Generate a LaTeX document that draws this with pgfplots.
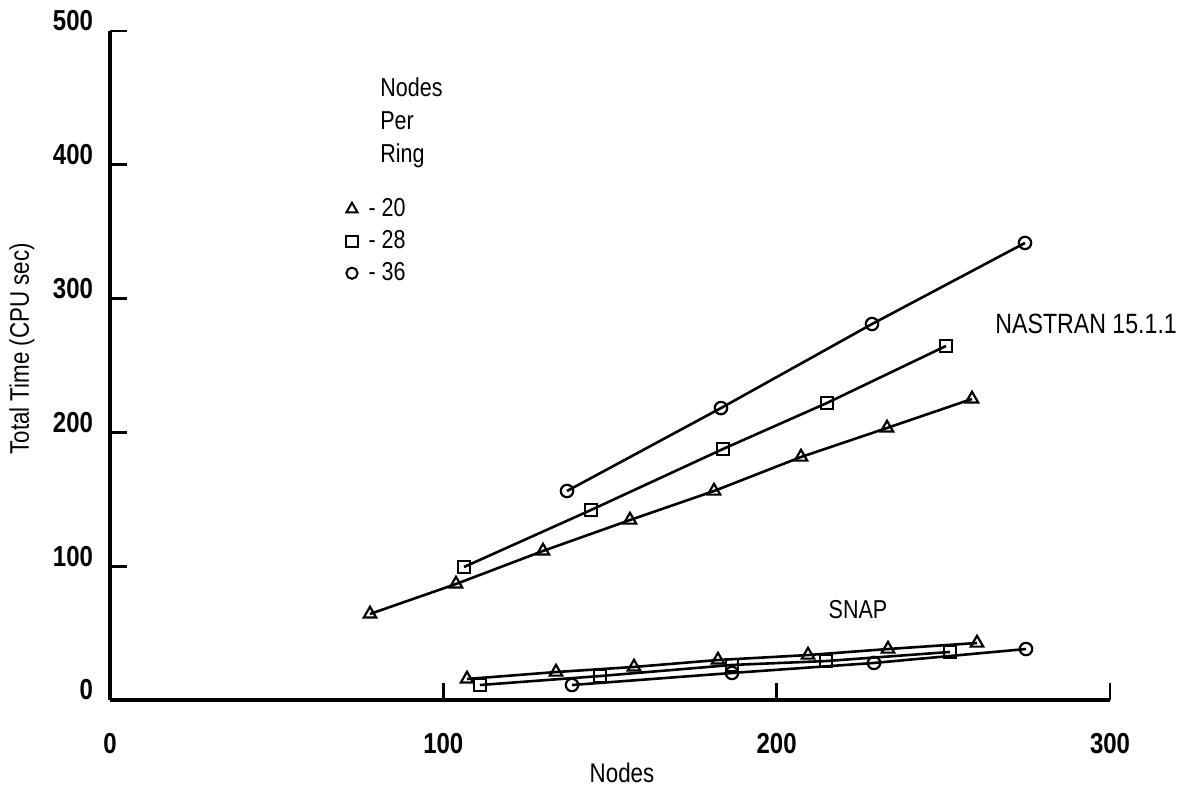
\documentclass[border=0pt]{standalone}
\usepackage{fontspec}
\setmainfont{Liberation Sans}[FakeStretch=0.83]
\usepackage{pgfplots}
\pgfplotsset{compat=1.18}
\begin{document}
\begin{tikzpicture}
\begin{axis}[
  at={(0,0)}, anchor=south west,
  scale only axis, width=500bp, height=334.5bp,
  xmin=0, xmax=300, ymin=0, ymax=500,
  axis lines=left, axis line style={-, line width=1.7bp},
  tick align=inside, major tick length=8.5bp,
  tick style={line width=1.3bp, black},
  xtick={0,100,200,300}, ytick={0,100,200,300,400,500},
  /pgf/number format/assume math mode=true,
  ticklabel style={font=\fontsize{14.5}{16}\selectfont\bfseries},
  xticklabel style={yshift=-13bp},
  yticklabel style={xshift=-5bp, yshift=5bp},
  xlabel={Nodes}, ylabel={Total Time (CPU sec)},
  label style={font=\fontsize{13.5}{15}\selectfont},
  xlabel style={at={(axis description cs:0.512,-0.109)}, anchor=center},
  ylabel style={at={(axis description cs:-0.088,0.525)}, anchor=center},
  clip=false,
  legend style={draw=none, fill=none, at={(axis cs:69,381)}, anchor=north west,
    font=\fontsize{13}{15}\selectfont, row sep=1.5bp},
  legend cell align=left,
  every axis plot/.append style={black, line width=1.3bp,
    mark options={solid, fill=white, line width=1.1bp}},
]
% NASTRAN 15.1.1
\addplot[mark=triangle, mark size=3.6bp, forget plot] coordinates {
 (78.0,64.3) (103.8,86.7) (129.9,111.4) (156.0,134.5) (181.2,156.2) (207.3,181.6) (233.1,203.3) (258.6,225.0)};
\addplot[mark=square, mark size=3bp, forget plot] coordinates {
 (106.2,99.4) (144.3,142.0) (183.9,187.6) (215.1,222.0) (250.8,264.6)};
\addplot[mark=o, mark size=3.1bp, forget plot] coordinates {
 (137.1,156.2) (183.3,218.2) (228.6,281.0) (274.5,341.6)};
% SNAP
\addplot[mark=triangle, mark size=3.6bp, forget plot] coordinates {
 (107.1,15.7) (133.8,20.9) (157.2,24.7) (182.4,29.9) (209.4,33.6) (233.4,38.1) (260.1,42.6)};
\addplot[mark=square, mark size=3bp, forget plot] coordinates {
 (111.0,11.2) (147.0,17.9) (186.6,26.2) (214.8,29.1) (252.0,35.9)};
\addplot[mark=o, mark size=3.1bp, forget plot] coordinates {
 (138.6,11.2) (186.6,20.2) (229.2,27.7) (274.8,38.1)};
% legend
\addlegendimage{only marks, mark=triangle, mark size=3.2bp, mark options={solid, fill=white, line width=1bp}}
\addlegendentry{\hspace{3.5bp}- 20}
\addlegendimage{only marks, mark=square, mark size=2.8bp, mark options={solid, fill=white, line width=1bp}}
\addlegendentry{\hspace{3.5bp}- 28}
\addlegendimage{only marks, mark=o, mark size=2.8bp, mark options={solid, fill=white, line width=1bp}}
\addlegendentry{\hspace{3.5bp}- 36}
\node[anchor=north west, align=left, inner sep=0pt,
  font=\fontsize{13}{16.5}\selectfont] at (axis cs:81,465) {Nodes\\Per\\Ring};
\node[anchor=west, inner sep=0pt, font=\fontsize{14}{16}\selectfont] at (axis cs:265.5,281) {NASTRAN 15.1.1};
\node[anchor=center, inner sep=0pt, font=\fontsize{13}{16}\selectfont] at (axis cs:224.4,67.3) {SNAP};
\end{axis}
\pgfresetboundingbox
\path[use as bounding box] (-55bp,-44.5bp) rectangle (544bp,350bp);
\end{tikzpicture}
\end{document}
